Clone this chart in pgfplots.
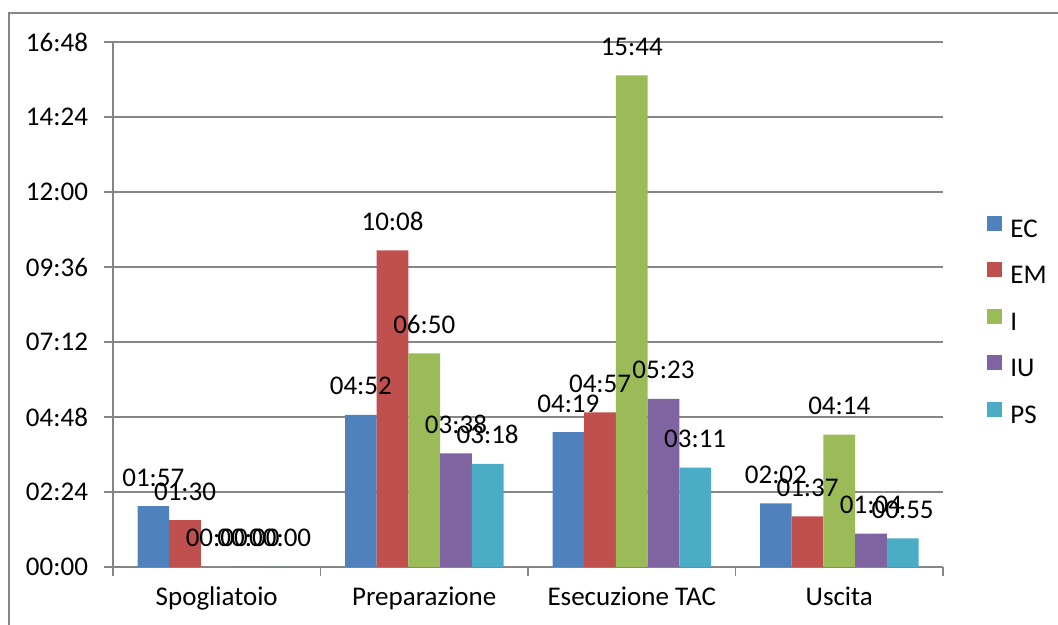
\documentclass[border=0pt]{standalone}
\usepackage{pgfplots}
\usepackage{pgfplotstable}
\pgfplotsset{compat=1.18}
\usepackage{fontspec}
\setmainfont{Carlito}
\definecolor{cEC}{HTML}{4F81BD}
\definecolor{cEM}{HTML}{C0504D}
\definecolor{cI}{HTML}{9BBB59}
\definecolor{cIU}{HTML}{8064A2}
\definecolor{cPS}{HTML}{4BACC6}
\definecolor{gridc}{HTML}{868686}
\pgfplotstableread{
x y label
0 117 01:57
1 292 04:52
2 259 04:19
3 122 02:02
}\tEC
\pgfplotstableread{
x y label
0 90 01:30
1 608 10:08
2 297 04:57
3 97 01:37
}\tEM
\pgfplotstableread{
x y label
0 0 00:00
1 410 06:50
2 944 15:44
3 254 04:14
}\tI
\pgfplotstableread{
x y label
0 0 00:00
1 218 03:38
2 323 05:23
3 64 01:04
}\tIU
\pgfplotstableread{
x y label
0 0 00:00
1 198 03:18
2 191 03:11
3 55 00:55
}\tPS
\pgfplotsset{sq legend/.style={legend image code/.code={\fill[##1,draw=none] (0pt,0.3pt) rectangle (7.5pt,7.8pt);}}}
\begin{document}
\begin{tikzpicture}[font=\fontsize{13.5}{16.2}\selectfont]
\path[use as bounding box] (0,0) rectangle (529pt,312.5pt);
\draw[gridc, line width=0.8pt] (4.5pt,0) -- (4.5pt,306pt) -- (529pt,306pt);
\begin{axis}[
  at={(56.5pt,29pt)}, anchor=south west,
  width=415pt, height=262.5pt, scale only axis,
  ybar=0pt, bar width=15.85pt,
  xmin=-0.5, xmax=3.5, ymin=0, ymax=1008,
  axis x line*=bottom, axis y line*=left,
  axis line style={gridc, line width=0.8pt, -},
  tick align=outside, major tick length=4.5pt,
  tick style={gridc, line width=0.8pt},
  xtick={-0.5,0.5,1.5,2.5,3.5}, xticklabels={},
  extra x ticks={0,1,2,3},
  extra x tick labels={Spogliatoio,Preparazione,Esecuzione TAC,Uscita},
  extra x tick style={xtick style={draw=none}, xticklabel style={anchor=base, yshift=-15pt}},
  ytick={0,144,288,432,576,720,864,1008},
  yticklabels={00:00,02:24,04:48,07:12,09:36,12:00,14:24,16:48},
  yticklabel style={xshift=-4.5pt},
  ymajorgrids, grid style={gridc, line width=0.8pt},
  clip=false,
  point meta=explicit symbolic,
  nodes near coords,
  every node near coord/.append style={anchor=base, yshift=10pt, inner sep=0pt, text=black},
  legend style={draw=none, fill=none, at={(1.053,0.4657)}, anchor=west,
    inner xsep=0pt, inner ysep=0pt, row sep=9.4pt,
    nodes={inner sep=0pt, text height=9pt, text depth=3pt},
    /tikz/every even column/.append style={column sep=0pt}},
  legend cell align=left,
  /tikz/every odd column/.append style={column sep=4pt},
]
\addplot[fill=cEC, draw=none, sq legend] table[x=x, y=y, meta=label] {\tEC};
\addplot[fill=cEM, draw=none, sq legend] table[x=x, y=y, meta=label] {\tEM};
\addplot[fill=cI, draw=none, sq legend] table[x=x, y=y, meta=label] {\tI};
\addplot[fill=cIU, draw=none, sq legend] table[x=x, y=y, meta=label] {\tIU};
\addplot[fill=cPS, draw=none, sq legend] table[x=x, y=y, meta=label] {\tPS};
\legend{EC,EM,I,IU,PS}
\end{axis}
\end{tikzpicture}
\end{document}
